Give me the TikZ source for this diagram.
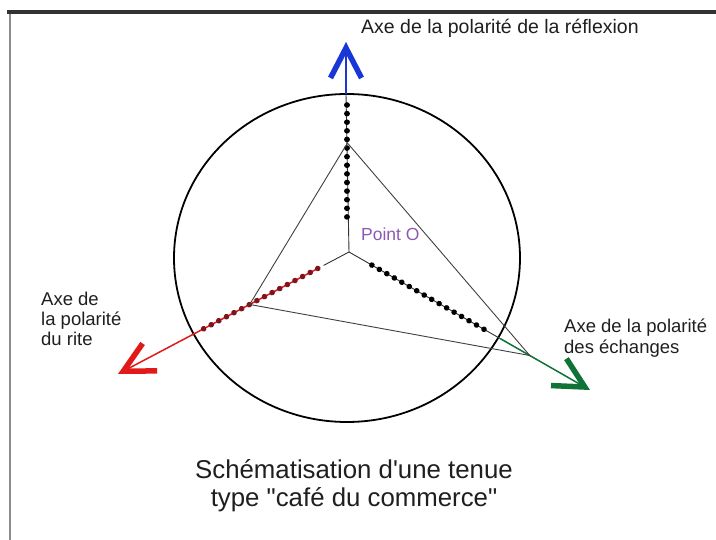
\documentclass[tikz,border=0pt]{standalone}
\usepackage{fontspec}
\setmainfont{Liberation Sans}[Ligatures=TeXOff]
\usetikzlibrary{arrows.meta,calc}
\definecolor{axblue}{RGB}{25,55,215}
\definecolor{axred}{RGB}{225,25,25}
\definecolor{axgreen}{RGB}{15,115,55}
\definecolor{beadred}{RGB}{125,20,30}
\definecolor{ptpurple}{RGB}{140,90,180}
\definecolor{framedark}{RGB}{50,50,50}
\definecolor{framegray}{RGB}{140,140,140}
\tikzset{
  axisthin/.style={line width=0.9pt, black!80},
  beads/.style={line width=5.6pt, line cap=round, dash pattern=on 0.01pt off 8.6pt},
  barbtip/.style={-{Straight Barb[length=30pt,width=31pt,line width=5.5pt]}},
  triline/.style={line width=0.9pt, black!75},
  lab/.style={inner sep=0pt, text=black!88},
}
\begin{document}
\begin{tikzpicture}[x=1pt,y=-1pt]
\useasboundingbox (0,0) rectangle (716,540);
\fill[white] (0,0) rectangle (716,540);
% frame
\draw[line width=3.5pt, framedark] (7,12) -- (716,12);
\draw[line width=1.5pt, framegray] (10,14) -- (10,540);
% key points
\coordinate (O) at (349,252);
\coordinate (tipB) at (346,42);
\coordinate (tipR) at (118,374);
\coordinate (tipG) at (590,390);
\coordinate (cB) at (346,94);
% circle
\draw[line width=1.8pt] (347,258) ellipse [x radius=173pt, y radius=164pt];
% blue axis
\draw[axisthin] (O) -- (cB);
\draw[beads] (347,105) -- (347,218);
\draw[line width=2pt, axblue, barbtip] (cB) -- (tipB);
% red axis
\draw[axisthin] (O) -- ($(O)!0.11!(tipR)$);
\draw[line width=1.5pt, axred, barbtip] ($(O)!0.135!(tipR)$) -- (tipR);
\draw[beads, beadred] ($(O)!0.135!(tipR)$) -- ($(O)!0.656!(tipR)$);
% green axis
\draw[axisthin] (O) -- ($(O)!0.627!(tipG)$);
\draw[beads] ($(O)!0.095!(tipG)$) -- ($(O)!0.59!(tipG)$);
\draw[line width=1.5pt, axgreen, barbtip] ($(O)!0.627!(tipG)$) -- (tipG);
% triangle
\coordinate (tA) at ($(O)!0.519!(tipB)$);
\coordinate (tL) at ($(O)!0.43!(tipR)$);
\coordinate (tR) at ($(O)!0.75!(tipG)$);
\draw[triline] (tA) -- (tL) -- (tR) -- cycle;
% labels
\node[lab, anchor=west, font=\fontsize{19.5}{22}\selectfont] (lB) at (361,28) {Axe de la polarité de la réflexion};
\node[lab, anchor=west, align=left, font=\fontsize{18.5}{20}\selectfont] (lR) at (41,319) {Axe de\\la polarité\\du rite};
\node[lab, anchor=west, align=left, font=\fontsize{18.5}{21}\selectfont] (lG) at (564,338) {Axe de la polarité\\des échanges};
\node[lab, anchor=west, text=ptpurple, font=\fontsize{17.5}{20}\selectfont] (pO) at (361,234) {Point O};
\node[lab, align=center, font=\fontsize{25.8}{28}\selectfont] (cap) at (354,486) {Schématisation d'une tenue\\type "café du commerce"};
\end{tikzpicture}
\end{document}
